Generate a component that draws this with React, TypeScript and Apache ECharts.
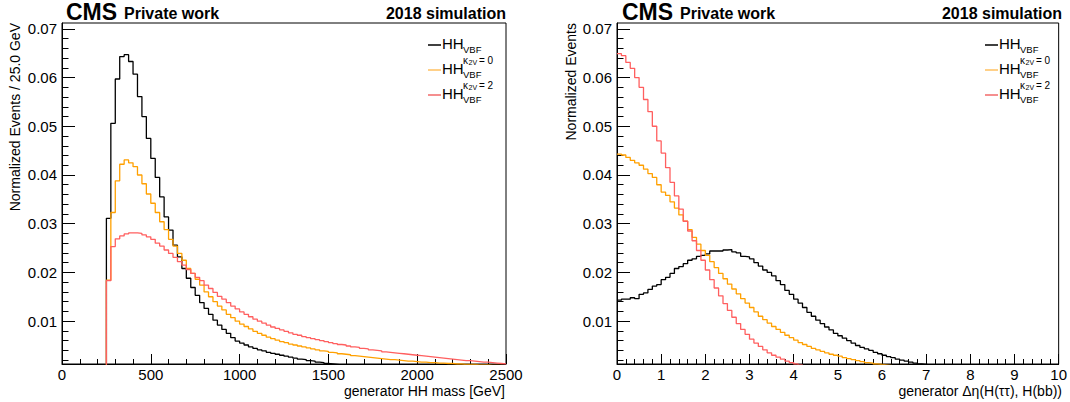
import React, { useEffect, useRef } from "react";
import * as echarts from "echarts";

// ---------- data ----------
const massMin = 0;
const massMax = 2500;
const massBinWidth = 25;
const detaMin = 0;
const detaMax = 10;
const detaBinWidth = 0.1;
const yMin = 0.0012;
const yMax = 0.0712;

const massTickLabels = [0, 500, 1000, 1500, 2000, 2500];
const detaTickLabels = [0, 1, 2, 3, 4, 5, 6, 7, 8, 9, 10];
const yMajorTicks = [0.01, 0.02, 0.03, 0.04, 0.05, 0.06, 0.07];
const yMinorTicks = [
  0.002, 0.004, 0.006, 0.008, 0.012, 0.014, 0.016, 0.018, 0.022, 0.024, 0.026, 0.028,
  0.032, 0.034, 0.036, 0.038, 0.042, 0.044, 0.046, 0.048, 0.052, 0.054, 0.056, 0.058,
  0.062, 0.064, 0.066, 0.068,
];

// generator HH mass, 25 GeV bins from 0 to 2500
const massSM = [
  0, 0, 0, 0, 0, 0, 0, 0, 0, 0,
  0.0311, 0.0506, 0.0597, 0.0643, 0.0647, 0.0633, 0.0607, 0.0561, 0.052, 0.0475,
  0.0434, 0.0395, 0.0355, 0.0314, 0.0287, 0.0256, 0.0232, 0.0208, 0.0188, 0.0169,
  0.0153, 0.0138, 0.0126, 0.0114, 0.0102, 0.0092, 0.0083, 0.0075, 0.0066, 0.0059,
  0.0055, 0.0051, 0.0047, 0.0044, 0.0041, 0.0039, 0.0036, 0.0034, 0.0032, 0.003,
  0.0028, 0.0026, 0.0024, 0.0022, 0.0021, 0.0019, 0.0018, 0.0016, 0.0015, 0.0013,
  0.0012, 0.0011, 0.001, 0.001, 0.0009, 0.0009, 0.0008, 0.0008, 0.0007, 0.0007,
  0.0007, 0.0006, 0.0006, 0.0006, 0.0005, 0.0005, 0.0005, 0.0005, 0.0004, 0.0004,
  0.0004, 0.0004, 0.0003, 0.0003, 0.0003, 0.0003, 0.0003, 0.0003, 0.0002, 0.0002,
  0.0002, 0.0002, 0.0002, 0.0002, 0.0002, 0.0002, 0.0001, 0.0001, 0.0001, 0.0001,
];
const massK0 = [
  0, 0, 0, 0, 0, 0, 0, 0, 0, 0,
  0.0184, 0.0323, 0.0388, 0.0422, 0.0431, 0.0425, 0.0417, 0.04, 0.0382, 0.0361,
  0.0342, 0.0323, 0.0304, 0.0288, 0.0268, 0.0254, 0.0239, 0.0225, 0.0208, 0.0198,
  0.0186, 0.0174, 0.016, 0.015, 0.014, 0.0131, 0.0123, 0.0114, 0.0107, 0.01,
  0.0094, 0.0089, 0.0084, 0.0079, 0.0075, 0.0071, 0.0067, 0.0064, 0.0061, 0.0058,
  0.0056, 0.0053, 0.0051, 0.0049, 0.0047, 0.0045, 0.0043, 0.0041, 0.0039, 0.0038,
  0.0036, 0.0035, 0.0033, 0.0032, 0.0031, 0.0029, 0.0028, 0.0027, 0.0026, 0.0025,
  0.0024, 0.0023, 0.0022, 0.0021, 0.0021, 0.002, 0.0019, 0.0018, 0.0018, 0.0017,
  0.0016, 0.0016, 0.0015, 0.0015, 0.0014, 0.0014, 0.0013, 0.0013, 0.0012, 0.0012,
  0.0011, 0.0011, 0.0011, 0.001, 0.001, 0.001, 0.0009, 0.0009, 0.0009, 0.0008,
];
const massK2 = [
  0, 0, 0, 0, 0, 0, 0, 0, 0, 0,
  0.0183, 0.0253, 0.0269, 0.0275, 0.0279, 0.0281, 0.0281, 0.028, 0.0277, 0.0273,
  0.0268, 0.026, 0.0254, 0.0246, 0.0239, 0.0231, 0.0222, 0.0215, 0.0206, 0.0198,
  0.019, 0.0183, 0.0174, 0.0167, 0.0159, 0.0151, 0.0145, 0.0138, 0.0131, 0.0125,
  0.0119, 0.0114, 0.0109, 0.0104, 0.01, 0.0096, 0.0092, 0.0088, 0.0085, 0.0082,
  0.0079, 0.0076, 0.0073, 0.0071, 0.0068, 0.0066, 0.0064, 0.0062, 0.006, 0.0058,
  0.0056, 0.0054, 0.0052, 0.0051, 0.0049, 0.0047, 0.0046, 0.0044, 0.0043, 0.0041,
  0.004, 0.0039, 0.0037, 0.0036, 0.0035, 0.0034, 0.0033, 0.0032, 0.0031, 0.003,
  0.0029, 0.0028, 0.0027, 0.0026, 0.0025, 0.0024, 0.0023, 0.0022, 0.0021, 0.002,
  0.0019, 0.0019, 0.0018, 0.0017, 0.0016, 0.0016, 0.0015, 0.0014, 0.0013, 0.0012,
];

// generator delta eta(H(tautau), H(bb)), 0.1 bins from 0 to 10
const detaSM = [
  0.0143, 0.0145, 0.0145, 0.0148, 0.0146, 0.0155, 0.0158, 0.0165, 0.0172, 0.0175,
  0.0185, 0.019, 0.0198, 0.0208, 0.0212, 0.0218, 0.0225, 0.0228, 0.0233, 0.0235,
  0.0238, 0.0244, 0.0244, 0.0244, 0.0246, 0.0247, 0.0242, 0.024, 0.0233, 0.0232,
  0.0228, 0.022, 0.0213, 0.0205, 0.02, 0.0193, 0.0183, 0.0175, 0.0163, 0.0155,
  0.0145, 0.0137, 0.0128, 0.0118, 0.011, 0.0102, 0.0095, 0.0088, 0.0082, 0.0075,
  0.007, 0.0065, 0.006, 0.0055, 0.005, 0.0046, 0.0043, 0.004, 0.0036, 0.0033,
  0.003, 0.0027, 0.0025, 0.0022, 0.002, 0.0018, 0.0016, 0.0014, 0.0012, 0.0011,
  0.001, 0.0009, 0.0008, 0.0007, 0.0006, 0.0005, 0.0005, 0.0004, 0.0004, 0.0003,
  0.0003, 0.0003, 0.0002, 0.0002, 0.0002, 0.0002, 0.0001, 0.0001, 0.0001, 0.0001,
  0.0001, 0.0001, 0.0001, 0.0001, 0, 0, 0, 0, 0, 0,
];
const detaK0 = [
  0.0443, 0.0441, 0.0436, 0.043, 0.0425, 0.042, 0.0412, 0.0403, 0.0395, 0.038,
  0.0365, 0.0358, 0.0345, 0.0332, 0.0318, 0.0305, 0.0288, 0.0272, 0.0258, 0.0245,
  0.0235, 0.0222, 0.021, 0.0198, 0.0187, 0.0176, 0.0166, 0.0156, 0.0146, 0.0137,
  0.0128, 0.0119, 0.011, 0.0103, 0.0096, 0.0089, 0.0083, 0.0077, 0.0071, 0.0066,
  0.0061, 0.0056, 0.0052, 0.0048, 0.0044, 0.0041, 0.0038, 0.0035, 0.0032, 0.003,
  0.0028, 0.0025, 0.0023, 0.0021, 0.0019, 0.0017, 0.0015, 0.0014, 0.0012, 0.0011,
  0.001, 0.0009, 0.0008, 0.0007, 0.0006, 0.0005, 0.0005, 0.0004, 0.0004, 0.0003,
  0.0003, 0.0002, 0.0002, 0.0002, 0.0001, 0.0001, 0.0001, 0.0001, 0.0001, 0.0001,
  0, 0, 0, 0, 0, 0, 0, 0, 0, 0,
  0, 0, 0, 0, 0, 0, 0, 0, 0, 0,
];
const detaK2 = [
  0.0649, 0.0645, 0.0631, 0.0619, 0.06, 0.058, 0.0555, 0.053, 0.05, 0.047,
  0.0445, 0.0415, 0.0385, 0.0357, 0.033, 0.0305, 0.0285, 0.0265, 0.0245, 0.0225,
  0.0205, 0.0185, 0.0168, 0.0152, 0.0136, 0.0122, 0.0108, 0.0095, 0.0083, 0.0073,
  0.0063, 0.0055, 0.0048, 0.0041, 0.0035, 0.003, 0.0026, 0.0022, 0.0018, 0.0015,
  0.0012, 0.001, 0.0008, 0.0007, 0.0006, 0.0005, 0.0004, 0.0003, 0.0003, 0.0002,
  0.0002, 0.0001, 0.0001, 0.0001, 0.0001, 0, 0, 0, 0, 0,
  0, 0, 0, 0, 0, 0, 0, 0, 0, 0,
  0, 0, 0, 0, 0, 0, 0, 0, 0, 0,
  0, 0, 0, 0, 0, 0, 0, 0, 0, 0,
  0, 0, 0, 0, 0, 0, 0, 0, 0, 0,
];

// ---------- styling ----------
const FONT = "'Liberation Sans', Arial, Helvetica, sans-serif";
const C_SM = "#000000";
const C_K0 = "#ffa000";
const C_K2 = "#ff5f5f";
const C_K0_LEG = "#ffc060";
const C_K2_LEG = "#f26a6a";

function histData(values: number[], lo: number, width: number): number[][] {
  const pts = values.map((v, i) => [lo + i * width, v]);
  pts.push([lo + values.length * width, values[values.length - 1]]);
  return pts;
}

function panelGraphics(dx: number, yTitle: string, xTitle: string, xTitleRight: number) {
  const els: any[] = [];
  const t = (x: number, y: number, text: string, size: number, opts: any = {}) => ({
    type: "text",
    x,
    y,
    rotation: opts.rotation || 0,
    silent: true,
    style: {
      text,
      fontSize: size,
      fontFamily: FONT,
      fontWeight: opts.bold ? "bold" : "normal",
      fill: opts.fill || "#000",
      textAlign: opts.align || "left",
      textVerticalAlign: "middle",
    },
  });
  // header
  els.push(t(66 + dx, 12, "CMS", 23, { bold: true }));
  els.push(t(124 + dx, 19 - 0.35 * 16, "Private work", 16, { bold: true }));
  els.push(t(506 + dx, 19 - 0.35 * 16, "2018 simulation", 16, { bold: true, align: "right" }));
  // axis titles
  els.push(t(xTitleRight, 391, xTitle, 14, { align: "right" }));
  els.push(t(15 + dx, 23, yTitle, 14, { align: "right", rotation: Math.PI / 2 }));
  // legend
  const lx = 428 + dx + (dx > 0 ? 1 : 0);
  const rows = [
    { y: 45, color: C_SM, sup: "" },
    { y: 70, color: C_K0_LEG, sup: "0" },
    { y: 95, color: C_K2_LEG, sup: "2" },
  ];
  rows.forEach((r) => {
    els.push({
      type: "line",
      silent: true,
      shape: { x1: lx, y1: r.y, x2: lx + 13, y2: r.y },
      style: { stroke: r.color, lineWidth: 1.5 },
    });
    els.push(t(lx + 14, r.y + 4 - 0.35 * 15, "HH", 15));
    els.push(t(lx + 35, r.y + 8 - 0.35 * 9.5, "VBF", 9.5));
    if (r.sup) {
      els.push(t(lx + 35, r.y - 6 - 0.35 * 10, "κ", 10));
      els.push(t(lx + 40.5, r.y - 5 - 0.35 * 7, "2V", 7));
      els.push(t(lx + 51, r.y - 6 - 0.35 * 10, "= " + r.sup, 10));
    }
  });
  return els;
}

function buildOption() {
  const gridH = 341;
  const grids = [
    { left: 62, top: 23, width: 444, height: gridH },
    { left: 617, top: 23, width: 445, height: gridH },
  ].map((g) => ({
    ...g,
    show: true,
    borderColor: "#000",
    borderWidth: 1,
    backgroundColor: "transparent",
  }));

  const labelStyle = { color: "#000", fontSize: 15, fontFamily: FONT };
  const mainX = (gi: number, min: number, max: number, interval: number, labels: number[]) => ({
    type: "value",
    gridIndex: gi,
    position: "bottom",
    min,
    max,
    interval,
    axisLine: { show: true, lineStyle: { color: "#000", width: 1 } },
    axisTick: { show: true, inside: true, length: 10, lineStyle: { color: "#000", width: 1 } },
    axisLabel: {
      ...labelStyle,
      margin: 3,
      showMinLabel: true,
      showMaxLabel: true,
      customValues: labels,
      formatter: (v: number) => String(v),
    },
    splitLine: { show: false },
  });
  const minorX = (gi: number, min: number, max: number, interval: number) => ({
    type: "value",
    gridIndex: gi,
    position: "bottom",
    min,
    max,
    interval,
    axisLine: { show: false },
    axisTick: { show: true, inside: true, length: 5, lineStyle: { color: "#000", width: 1 } },
    axisLabel: { show: false },
    splitLine: { show: false },
  });
  const mainY = (gi: number) => ({
    type: "value",
    gridIndex: gi,
    position: "left",
    min: yMin,
    max: yMax,
    axisLine: { show: true, lineStyle: { color: "#000", width: 1 } },
    axisTick: {
      show: true,
      inside: true,
      length: 13,
      customValues: yMajorTicks,
      lineStyle: { color: "#000", width: 1 },
    },
    axisLabel: {
      ...labelStyle,
      margin: 5,
      customValues: yMajorTicks,
      formatter: (v: number) => v.toFixed(2),
    },
    splitLine: { show: false },
  });
  const minorY = (gi: number) => ({
    type: "value",
    gridIndex: gi,
    position: "left",
    offset: 0,
    min: yMin,
    max: yMax,
    axisLine: { show: false },
    axisTick: {
      show: true,
      inside: true,
      length: 6.5,
      customValues: yMinorTicks,
      lineStyle: { color: "#000", width: 1 },
    },
    axisLabel: { show: false },
    splitLine: { show: false },
  });

  const histSeries = (
    name: string,
    values: number[],
    lo: number,
    width: number,
    color: string,
    axisIdx: number,
    z: number
  ) => ({
    type: "line",
    name,
    xAxisIndex: axisIdx,
    yAxisIndex: axisIdx,
    data: histData(values, lo, width),
    step: "end",
    symbol: "none",
    clip: true,
    z,
    lineStyle: { color, width: 1.3 },
    silent: true,
  });

  return {
    animation: false,
    backgroundColor: "#ffffff",
    grid: grids,
    xAxis: [
      mainX(0, massMin, massMax, 500, massTickLabels),
      minorX(0, massMin, massMax, 100),
      mainX(1, detaMin, detaMax, 1, detaTickLabels),
      minorX(1, detaMin, detaMax, 0.2),
    ],
    yAxis: [mainY(0), minorY(0), mainY(1), minorY(1)],
    series: [
      histSeries("HH_VBF", massSM, massMin, massBinWidth, C_SM, 0, 3),
      histSeries("HH_VBF k2V=0", massK0, massMin, massBinWidth, C_K0, 0, 4),
      histSeries("HH_VBF k2V=2", massK2, massMin, massBinWidth, C_K2, 0, 5),
      histSeries("HH_VBF", detaSM, detaMin, detaBinWidth, C_SM, 2, 3),
      histSeries("HH_VBF k2V=0", detaK0, detaMin, detaBinWidth, C_K0, 2, 4),
      histSeries("HH_VBF k2V=2", detaK2, detaMin, detaBinWidth, C_K2, 2, 5),
    ],
    graphic: [
      ...panelGraphics(0, "Normalized Events / 25.0 GeV", "generator HH mass [GeV]", 505),
      ...panelGraphics(556, "Normalized Events", "generator \u0394\u03b7(H(\u03c4\u03c4), H(bb))", 1062),
    ],
  };
}

export default function App() {
  const ref = useRef<HTMLDivElement>(null);
  useEffect(() => {
    document.body.style.margin = "0";
    if (!ref.current) return;
    const chart = echarts.init(ref.current, undefined, { renderer: "svg" });
    chart.setOption(buildOption() as any);
    return () => chart.dispose();
  }, []);
  return <div ref={ref} style={{ width: 1070, height: 402, background: "#fff" }} />;
}
